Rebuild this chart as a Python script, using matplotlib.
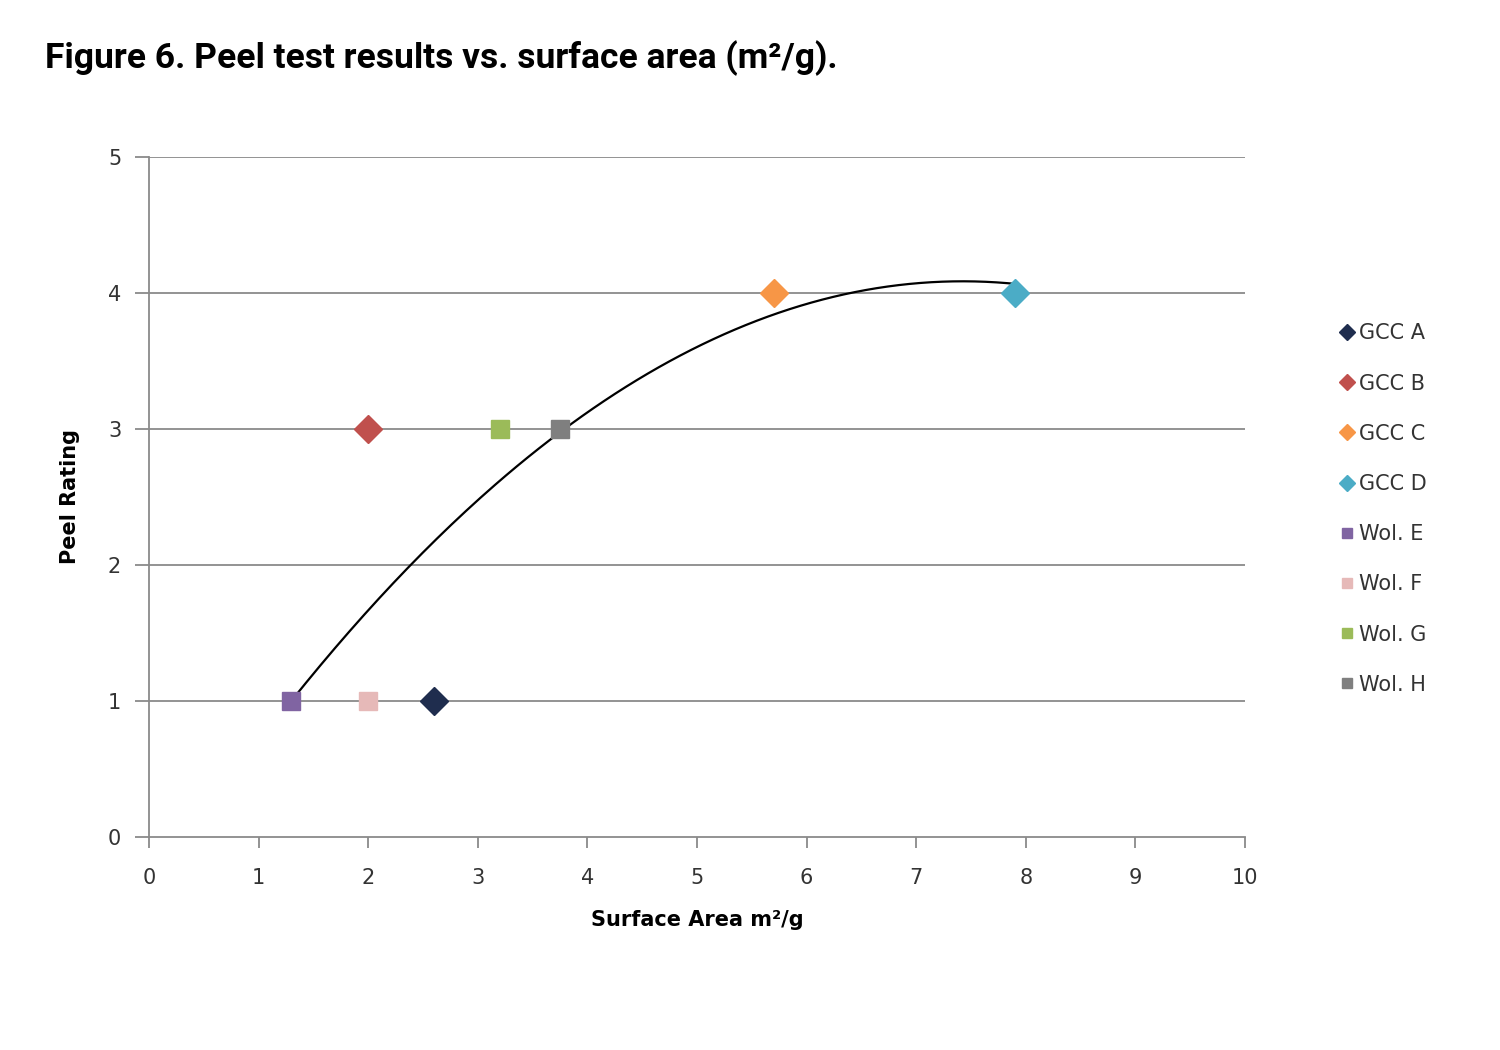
import numpy as np
import matplotlib.pyplot as plt

# --- data ---
namn = ["GCC A", "GCC B", "GCC C", "GCC D", "Wol. E", "Wol. F", "Wol. G", "Wol. H"]
yta = [2.6, 2.0, 5.7, 7.9, 1.3, 2.0, 3.2, 3.75]
betyg = [1, 3, 4, 4, 1, 1, 3, 3]
markorer = ["D", "D", "D", "D", "s", "s", "s", "s"]
farger = ["#1F2D4E", "#C0504D", "#F79646", "#4BACC6",
          "#8064A2", "#E6B9B8", "#9BBB59", "#7F7F7F"]

# trendline (polynomial, order 2)
trend_x = [1.3, 2.4, 3.75, 5.0, 6.0, 7.0, 7.9]
trend_y = [1.0, 2.0, 3.0, 3.62, 3.88, 4.07, 4.08]

x_ticks = [0, 1, 2, 3, 4, 5, 6, 7, 8, 9, 10]
y_ticks = [0, 1, 2, 3, 4, 5]

fig = plt.figure(figsize=(15, 10.5), dpi=100)
ax = fig.add_axes([149 / 1500, 1 - 837 / 1050, (1245 - 149) / 1500, (837 - 157) / 1050])

grid_col = "#8a8a8a"
for y in y_ticks[1:]:
    ax.axhline(y, color=grid_col, lw=1.3, zorder=1)

# trendline
koef = np.polyfit(trend_x, trend_y, 2)
xs = np.linspace(min(trend_x), max(trend_x), 200)
ax.plot(xs, np.polyval(koef, xs), color="black", lw=1.6, zorder=2)

for n, x, y, m, c in zip(namn, yta, betyg, markorer, farger):
    ms = 14 if m == "D" else 13
    ax.plot([x], [y], linestyle="none", marker=m, ms=ms, color=c,
            markeredgecolor=c, label=n, zorder=3)

ax.set_xlim(0, 10)
ax.set_ylim(0, 5)
ax.set_xticks(x_ticks)
ax.set_yticks(y_ticks)
ax.tick_params(axis="both", labelsize=15, color=grid_col, width=1.3)
ax.tick_params(axis="y", length=10, pad=10)
ax.tick_params(axis="x", length=8, pad=14)
for t in ax.get_xticklabels() + ax.get_yticklabels():
    t.set_color("#333333")

for s in ["top", "right"]:
    ax.spines[s].set_visible(False)
for s in ["left", "bottom"]:
    ax.spines[s].set_color(grid_col)
    ax.spines[s].set_linewidth(1.3)

ax.set_xlabel("Surface Area m²/g", fontsize=15, fontweight="bold", labelpad=16)
ax.set_ylabel("Peel Rating", fontsize=15, fontweight="bold", labelpad=20)

leg = ax.legend(loc="upper left", bbox_to_anchor=(1183 / 1096, (837 - 315) / 680),
                frameon=False, fontsize=15, markerscale=0.55, handlelength=0.6,
                handletextpad=0.3, labelspacing=1.45, borderaxespad=0)
for t in leg.get_texts():
    t.set_color("#333333")

# title: narrow-ish bold font, sized so it spans the same width as the original
rubrik = fig.text(45 / 1500, 1 - 58 / 1050, "Figure 6. Peel test results vs. surface area (m²/g).",
                  fontsize=24, fontweight="bold", va="center", ha="left",
                  family=["Roboto", "DejaVu Sans"])
fig.canvas.draw()
bredd = rubrik.get_window_extent().width
rubrik.set_fontsize(24 * 793 / bredd)

fig.savefig("out.png", dpi=100)
